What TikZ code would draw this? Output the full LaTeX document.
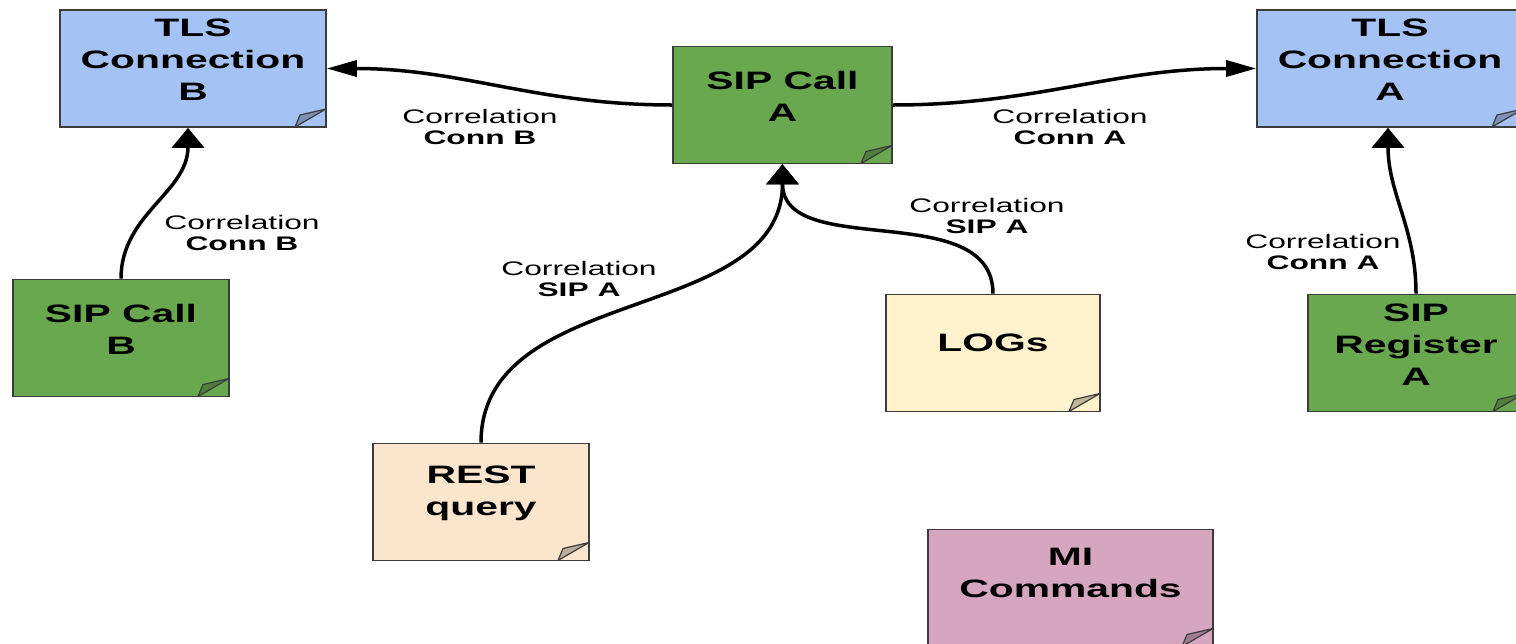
\documentclass[tikz,border=0pt]{standalone}
\usepackage{fontspec}
\newfontfamily\notefont[FakeStretch=1.62]{Liberation Sans}
\usetikzlibrary{shapes.misc, arrows.meta, positioning}
\definecolor{clrTLS}{HTML}{A4C2F4}
\definecolor{clrSIP}{HTML}{6AA84F}
\definecolor{clrRest}{HTML}{FCE5CD}
\definecolor{clrLogs}{HTML}{FFF2CC}
\definecolor{clrMI}{HTML}{D5A6BD}
\definecolor{clrEdge}{HTML}{3C3C3C}
\tikzset{
  note/.style = {chamfered rectangle, chamfered rectangle corners=south east,
                 chamfered rectangle xsep=15.5pt, chamfered rectangle ysep=9pt,
                 minimum width=108pt, minimum height=58.5pt, inner sep=0pt,
                 draw=clrEdge, line width=0.8pt, fill=#1,
                 path picture={\draw[fill=#1!75!black, line width=0.6pt]
                   ([xshift=-15.5pt]path picture bounding box.south east) --
                   ([xshift=-13pt, yshift=6pt]path picture bounding box.south east) --
                   ([yshift=9pt]path picture bounding box.south east) -- cycle;}},
  notetext/.style = {font=\notefont\fontsize{12.6}{16}\selectfont\bfseries,
                     align=center, yshift=4.5pt},
  corr/.style = {font=\notefont\fontsize{9.8}{10.8}\selectfont, align=center},
  harrow/.style = {-{Triangle[length=15pt, width=8pt]}, line width=1.75pt},
  varrow/.style = {-{Triangle[length=10pt, width=16pt]}, line width=1.75pt},
}

\begin{document}
\begin{tikzpicture}[x=0.5pt, y=-0.5pt]
\useasboundingbox (0,0) rectangle (1516,643);
\clip (0,0) rectangle (1516,643);

% Notes
\node[note=clrTLS, minimum width=133pt, label={[notetext]center:TLS\\Connection\\B}] (tlsB) at (193,68.5) {};
\node[note=clrTLS, minimum width=133pt, label={[notetext]center:TLS\\Connection\\A}] (tlsA) at (1390,68.5) {};
\node[note=clrSIP, minimum width=109.5pt, label={[notetext]center:SIP Call\\A}] (sipA) at (782.5,105) {};
\node[note=clrSIP, label={[notetext]center:SIP Call\\B}] (sipB) at (121,338) {};
\node[note=clrSIP, label={[notetext, yshift=-0.5pt]center:SIP\\Register\\A}] (sipReg) at (1416,353) {};
\node[note=clrRest, label={[notetext]center:REST\\query}] (rest) at (481,502) {};
\node[note=clrLogs, minimum width=107pt, label={[notetext, yshift=0.5pt]center:LOGs}] (logs) at (993,353) {};
\node[note=clrMI, minimum width=142.5pt, label={[notetext, yshift=3pt]center:MI\\Commands}] (mi) at (1070.5,588) {};

% Correlations
\draw[harrow] (sipA.west) to[out=180, in=0] (tlsB.east);
\draw[harrow] (sipA.east) to[out=0, in=180] (tlsA.west);
\draw[varrow] (sipB.north) to[out=90, in=-90] ([xshift=-2.5pt]tlsB.south);
\draw[varrow] (rest.north) to[out=90, in=-90] (sipA.south);
\draw[varrow] (logs.north) to[out=90, in=-90] (sipA.south);
\draw[varrow] (sipReg.north) to[out=90, in=-90] ([xshift=-1pt]tlsA.south);

\node[corr] (lblB) at (480,127) {Correlation\\\textbf{Conn B}};
\node[corr] (lblA) at (1070,127) {Correlation\\\textbf{Conn A}};
\node[corr] (lblSipB) at (242,233) {Correlation\\\textbf{Conn B}};
\node[corr] (lblRest) at (579,279) {Correlation\\\textbf{SIP A}};
\node[corr] (lblLogs) at (987,216) {Correlation\\\textbf{SIP A}};
\node[corr] (lblReg) at (1323,252) {Correlation\\\textbf{Conn A}};
\end{tikzpicture}
\end{document}
